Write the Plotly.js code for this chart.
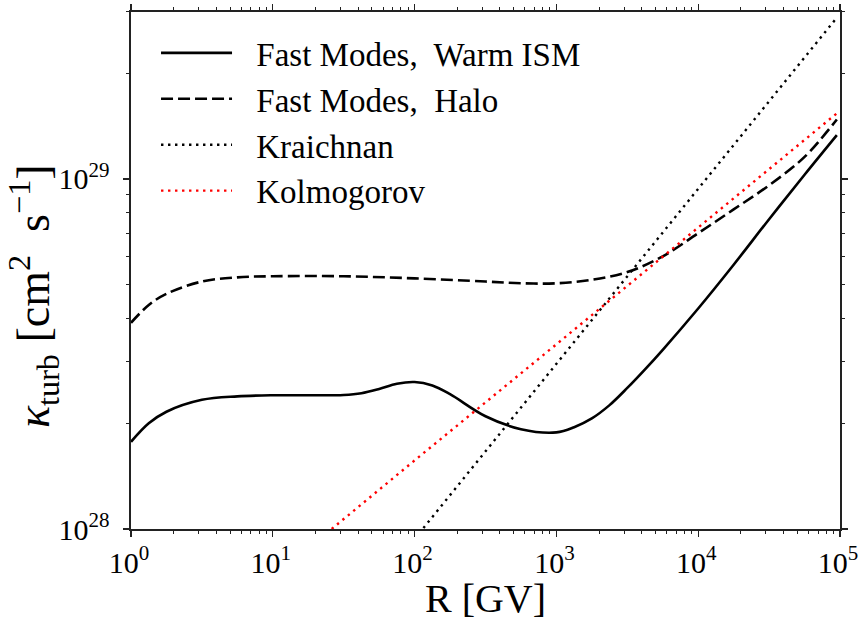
<!DOCTYPE html>
<html>
<head>
<meta charset="utf-8">
<script src="https://cdn.plot.ly/plotly-3.0.1.min.js"></script>
<style>
  html, body { margin: 0; padding: 0; background: #fff; }
  #chart { width: 859px; height: 621px; }
</style>
</head>
<body>
<div id="chart"></div>
<script>
// Rigidity R [GV] and turbulent diffusion coefficient kappa [cm^2 s^-1]
const warmR = [1, 1.334, 1.778, 3.162, 5.623, 10, 17.78, 31.62, 42.17, 56.23, 74.99, 100, 133.4, 177.8, 316.2, 562.3, 1000, 1334, 1778, 2371, 3162, 4217, 5623, 10000, 17783, 31623, 56234, 95000];
const warmK = [1.774e28, 2.004e28, 2.163e28, 2.339e28, 2.393e28, 2.410e28, 2.410e28, 2.415e28, 2.443e28, 2.512e28, 2.600e28, 2.630e28, 2.570e28, 2.427e28, 2.099e28, 1.928e28, 1.888e28, 1.954e28, 2.070e28, 2.259e28, 2.529e28, 2.858e28, 3.251e28, 4.266e28, 5.689e28, 7.674e28, 1.028e29, 1.334e29];

const haloR = [1, 1.334, 1.778, 3.162, 5.623, 10, 31.62, 100, 316.2, 562.3, 1000, 1778, 3162, 5623, 10000, 17783, 31623, 56234, 95000];
const haloK = [3.882e28, 4.365e28, 4.699e28, 5.093e28, 5.236e28, 5.272e28, 5.272e28, 5.200e28, 5.093e28, 5.035e28, 5.035e28, 5.152e28, 5.420e28, 6.012e28, 6.998e28, 8.185e28, 9.594e28, 1.156e29, 1.479e29];

const kraichnanR = [100, 1000, 10000, 95000];
const kraichnanK = [9.37e27, 2.97e28, 9.38e28, 2.89e29];

const kolmogorovR = [20, 100, 1000, 10000, 95000];
const kolmogorovK = [9.16e27, 1.57e28, 3.37e28, 7.27e28, 1.54e29];

const seriesNames = ['Fast Modes,  Warm ISM', 'Fast Modes,  Halo', 'Kraichnan', 'Kolmogorov'];

const xTickVals = [1, 10, 100, 1000, 10000, 100000];
const xTickText = ['10<sup>0</sup>', '10<sup>1</sup>', '10<sup>2</sup>', '10<sup>3</sup>', '10<sup>4</sup>', '10<sup>5</sup>'];
const yTickVals = [1e28, 1e29];
const yTickText = ['10<sup>28</sup>', '10<sup>29</sup>'];

const xTitle = 'R [GV]';
const yTitle = '<i>κ</i><sub>turb</sub>\u00a0[cm<sup>2</sup>\u00a0\u00a0s<sup>−1</sup>]';

const FONT = '"Liberation Serif", "DejaVu Serif", serif';
// small lead-in so the legend labels sit a little away from their line samples
const LEAD = '\u00a0\u00a0\u200a';

const traces = [
  { x: warmR, y: warmK, name: LEAD + seriesNames[0], mode: 'lines',
    line: { color: '#000', width: 2.6, shape: 'spline', smoothing: 1 } },
  { x: haloR, y: haloK, name: LEAD + seriesNames[1], mode: 'lines',
    line: { color: '#000', width: 2.6, dash: '12px,5px', shape: 'spline', smoothing: 1 } },
  { x: kraichnanR, y: kraichnanK, name: LEAD + seriesNames[2], mode: 'lines',
    line: { color: '#000', width: 2.4, dash: '2.4px,4.6px' } },
  { x: kolmogorovR, y: kolmogorovK, name: LEAD + seriesNames[3], mode: 'lines',
    line: { color: '#ff0000', width: 2.4, dash: '2.4px,4.6px' } }
];

const axisCommon = {
  type: 'log',
  showgrid: false,
  zeroline: false,
  showline: true,
  linecolor: '#222',
  linewidth: 1.6,
  mirror: 'ticks',
  ticks: 'outside',
  ticklen: 6,
  tickwidth: 1.3,
  tickcolor: '#222',
  tickmode: 'array',
  ticklabeloverflow: 'allow',
  minor: { dtick: 'D1', ticks: 'outside', ticklen: 3.5, tickwidth: 1, tickcolor: '#222', showgrid: false }
};

const layout = {
  width: 859,
  height: 621,
  margin: { l: 131, r: 19, t: 12, b: 92 },
  paper_bgcolor: '#fff',
  plot_bgcolor: '#fff',
  font: { family: FONT, color: '#000' },
  showlegend: true,
  legend: {
    x: 0.0353, y: 0.975, xanchor: 'left', yanchor: 'top',
    bgcolor: 'rgba(0,0,0,0)', borderwidth: 0,
    itemwidth: 71,
    font: { family: FONT, size: 33, color: '#000' }
  },
  xaxis: Object.assign({}, axisCommon, {
    range: [0, 5],
    tickvals: xTickVals, ticktext: xTickText,
    tickfont: { family: FONT, size: 30, color: '#000' },
    ticklabelshift: -2,
    title: { text: xTitle, font: { family: FONT, size: 40, color: '#000' }, standoff: 4 }
  }),
  yaxis: Object.assign({}, axisCommon, {
    range: [28, 29.477],
    tickvals: yTickVals, ticktext: yTickText,
    tickfont: { family: FONT, size: 30, color: '#000' },
    ticklabelstandoff: 8
  }),
  annotations: [{
    // vertical axis label, placed beside the tick labels
    text: yTitle,
    xref: 'paper', yref: 'paper',
    x: 0, y: 0.4507,
    xshift: -97,
    xanchor: 'center', yanchor: 'middle',
    textangle: -90,
    showarrow: false,
    font: { family: FONT, size: 46, color: '#000' }
  }]
};

Plotly.newPlot('chart', traces, layout, { staticPlot: true, displayModeBar: false });
</script>
</body>
</html>
